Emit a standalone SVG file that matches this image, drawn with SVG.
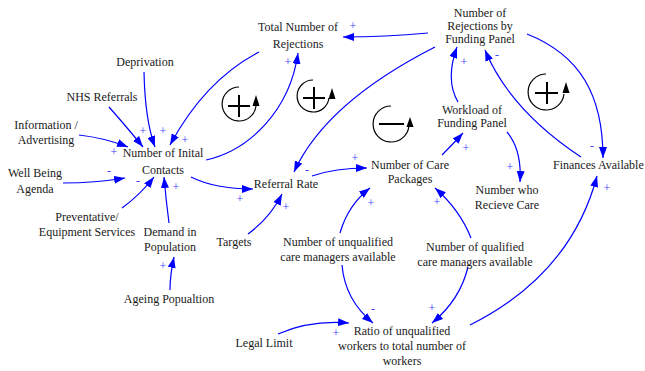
<svg xmlns="http://www.w3.org/2000/svg" width="645" height="371" viewBox="0 0 645 371">
<style>
.t{font-family:"Liberation Serif","Times New Roman",serif;font-size:12px;fill:#1a1a1a;text-anchor:middle}
.p{font-family:"Liberation Serif","Times New Roman",serif;font-size:12px;fill:#4040ff;text-anchor:middle}
.c{fill:none;stroke:#0000ff;stroke-width:1.2;marker-end:url(#ah)}
.lc{fill:none;stroke:#000;stroke-width:1.2}
.ls{fill:none;stroke:#000;stroke-width:2}
</style>
<defs>
<marker id="ah" markerUnits="userSpaceOnUse" markerWidth="11" markerHeight="8" refX="11" refY="4" orient="auto">
<path d="M0,0 L11,4 L0,8 z" fill="#0000ff"/>
</marker>
</defs>
<rect width="645" height="371" fill="#fff"/>

<g id="connectors">
<path class="c" d="M109,107 Q125,125 143,147"/>
<path class="c" d="M144,72 Q145,120 155,147"/>
<path class="c" d="M259,52 Q205,80 170,145"/>
<path class="c" d="M79,135 Q105,138 128,147"/>
<path class="c" d="M63,183 Q95,183 125,178"/>
<path class="c" d="M122,208 Q140,195 154,177"/>
<path class="c" d="M169,223 Q166,200 164,177"/>
<path class="c" d="M206,160 C250,150 290,110 298,53"/>
<path class="c" d="M191,177 Q215,189 253,189"/>
<path class="c" d="M248,234 Q270,218 282,194"/>
<path class="c" d="M435,47 C380,75 320,115 294,172"/>
<path class="c" d="M428,33 Q385,37 343,37"/>
<path class="c" d="M312,176 Q335,168 367,168"/>
<path class="c" d="M340,233 Q348,205 370,188"/>
<path class="c" d="M471,238 Q460,210 435,188"/>
<path class="c" d="M442,155 Q452,145 463,133"/>
<path class="c" d="M507,132 Q522,150 520,182"/>
<path class="c" d="M458,102 Q445,80 457,47"/>
<path class="c" d="M581,157 Q510,110 485,50"/>
<path class="c" d="M527,34 C580,55 603,95 603,158"/>
<path class="c" d="M470,325 C540,290 580,240 597,176"/>
<path class="c" d="M342,265 Q345,300 373,323"/>
<path class="c" d="M468,267 Q460,300 432,323"/>
<path class="c" d="M278,334 Q310,320 349,323"/>
<path class="c" d="M170,290 Q170,275 174,257"/>
</g>

<g id="polarities">
<text class="p" x="143" y="135">+</text>
<text class="p" x="163" y="135">+</text>
<text class="p" x="185" y="144">+</text>
<text class="p" x="114" y="156">+</text>
<text class="p" x="109" y="174.5">-</text>
<text class="p" x="138" y="184.5">-</text>
<text class="p" x="176" y="191">+</text>
<text class="p" x="288" y="66">+</text>
<text class="p" x="240" y="203">+</text>
<text class="p" x="286" y="211">+</text>
<text class="p" x="307" y="174">-</text>
<text class="p" x="353" y="30">+</text>
<text class="p" x="355" y="162">+</text>
<text class="p" x="371" y="207">+</text>
<text class="p" x="437" y="206">+</text>
<text class="p" x="466" y="152">+</text>
<text class="p" x="510" y="171">+</text>
<text class="p" x="464" y="66">+</text>
<text class="p" x="497" y="58.5">-</text>
<text class="p" x="592" y="149.5">-</text>
<text class="p" x="607" y="192">+</text>
<text class="p" x="373" y="312.5">-</text>
<text class="p" x="432" y="312">+</text>
<text class="p" x="336" y="337">+</text>
<text class="p" x="163" y="270">+</text>
</g>

<g id="loop1" transform="translate(239,104)">
<path class="lc" d="M0,-17 A17,17 0 1 0 17,2"/>
<polygon points="17,-9 13.5,2 20.5,2" fill="#000"/>
<path class="ls" d="M-11,2 H11 M0,-9 V13"/>
</g>
<g id="loop2" transform="translate(313,96)">
<path class="lc" d="M0,-16 A16,16 0 1 0 16,2"/>
<polygon points="19,-8 15.5,3 22.5,3" fill="#000"/>
<path class="ls" d="M-10,2 H12 M1,-9 V13"/>
</g>
<g id="loop3" transform="translate(391,124)">
<path class="lc" d="M0,-18 A18,18 0 1 0 18,2"/>
<polygon points="19,-7 15.5,3 22.5,3" fill="#000"/>
<path class="ls" d="M-12,0 H13"/>
</g>
<g id="loop4" transform="translate(546,92)">
<path class="lc" d="M0,-18 A18,18 0 1 0 18,2"/>
<polygon points="20,-10 16.5,1 23.5,1" fill="#000"/>
<path class="ls" d="M-11,1 H12 M1,-10 V12"/>
</g>

<g id="n-total"><text class="t" x="298" y="31">Total Number of</text><text class="t" x="298" y="48">Rejections</text></g>
<g id="n-rejections"><text class="t" x="480" y="17">Number of</text><text class="t" x="480" y="30">Rejections by</text><text class="t" x="480" y="43">Funding Panel</text></g>
<g id="n-deprivation"><text class="t" x="145" y="66">Deprivation</text></g>
<g id="n-nhs"><text class="t" x="102" y="101">NHS Referrals</text></g>
<g id="n-info"><text class="t" x="46" y="129">Information /</text><text class="t" x="46" y="144">Advertising</text></g>
<g id="n-initial"><text class="t" x="163" y="157">Number of Inital</text><text class="t" x="163" y="174">Contacts</text></g>
<g id="n-wellbeing"><text class="t" x="35" y="177">Well Being</text><text class="t" x="35" y="193">Agenda</text></g>
<g id="n-preventative"><text class="t" x="87" y="221">Preventative/</text><text class="t" x="87" y="236">Equipment Services</text></g>
<g id="n-demand"><text class="t" x="170" y="236">Demand in</text><text class="t" x="170" y="251">Population</text></g>
<g id="n-ageing"><text class="t" x="169" y="303">Ageing Popualtion</text></g>
<g id="n-targets"><text class="t" x="234" y="246">Targets</text></g>
<g id="n-legal"><text class="t" x="264" y="347">Legal Limit</text></g>
<g id="n-referral"><text class="t" x="286" y="188">Referral Rate</text></g>
<g id="n-care"><text class="t" x="410" y="169">Number of Care</text><text class="t" x="410" y="183">Packages</text></g>
<g id="n-workload"><text class="t" x="472" y="114">Workload of</text><text class="t" x="472" y="127">Funding Panel</text></g>
<g id="n-receive"><text class="t" x="507" y="194">Number who</text><text class="t" x="507" y="209">Recieve Care</text></g>
<g id="n-finances"><text class="t" x="553" y="169" style="text-anchor:start">Finances Available</text></g>
<g id="n-unqualified"><text class="t" x="338" y="246">Number of unqualified</text><text class="t" x="338" y="261">care managers available</text></g>
<g id="n-qualified"><text class="t" x="475" y="251">Number of qualified</text><text class="t" x="475" y="266">care managers available</text></g>
<g id="n-ratio"><text class="t" x="402" y="335">Ratio of unqualified</text><text class="t" x="402" y="350">workers to total number of</text><text class="t" x="402" y="365">workers</text></g>
</svg>
